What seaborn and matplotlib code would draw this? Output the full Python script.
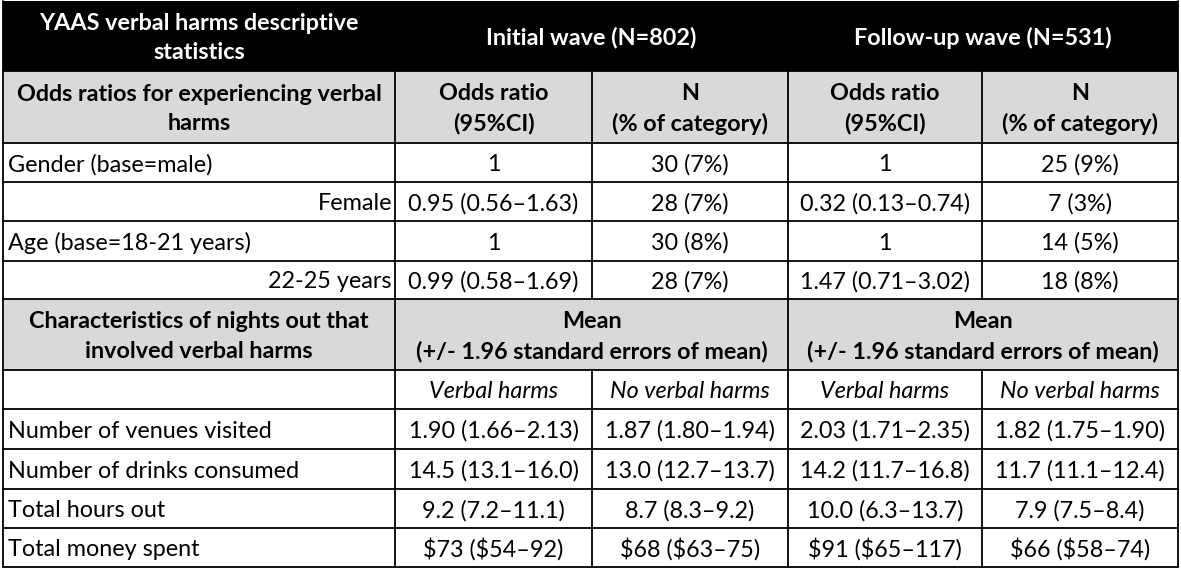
# YAAS verbal harms descriptive statistics table
import matplotlib
matplotlib.use('Agg')
import matplotlib.pyplot as plt
from matplotlib.patches import Rectangle
import seaborn as sns

# Table content
title = "YAAS verbal harms descriptive\nstatistics"
wave_headers = ["Initial wave (N=802)", "Follow-up wave (N=531)"]
or_header = "Odds ratios for experiencing verbal\nharms"
or_subheaders = ["Odds ratio\n(95%CI)", "N\n(% of category)"]
or_rows = ["Gender (base=male)", "Female", "Age (base=18-21 years)", "22-25 years"]
or_indent = [False, True, False, True]
initial_or = ["1", "0.95 (0.56–1.63)", "1", "0.99 (0.58–1.69)"]
initial_n = ["30 (7%)", "28 (7%)", "30 (8%)", "28 (7%)"]
follow_or = ["1", "0.32 (0.13–0.74)", "1", "1.47 (0.71–3.02)"]
follow_n = ["25 (9%)", "7 (3%)", "14 (5%)", "18 (8%)"]

night_header = "Characteristics of nights out that\ninvolved verbal harms"
mean_header = "Mean\n(+/- 1.96 standard errors of mean)"
harm_labels = ["Verbal harms", "No verbal harms"]
night_rows = ["Number of venues visited", "Number of drinks consumed",
              "Total hours out", "Total money spent"]
initial_vh = ["1.90 (1.66–2.13)", "14.5 (13.1–16.0)", "9.2 (7.2–11.1)", "$73 ($54–92)"]
initial_nvh = ["1.87 (1.80–1.94)", "13.0 (12.7–13.7)", "8.7 (8.3–9.2)", "$68 ($63–75)"]
follow_vh = ["2.03 (1.71–2.35)", "14.2 (11.7–16.8)", "10.0 (6.3–13.7)", "$91 ($65–117)"]
follow_nvh = ["1.82 (1.75–1.90)", "11.7 (11.1–12.4)", "7.9 (7.5–8.4)", "$66 ($58–74)"]

# Layout (pixel grid)
col_x = [3, 395, 592, 788, 982, 1178]
row_y = [1, 71, 143, 182, 221, 261, 299, 370, 409, 449, 489, 528, 567]
gray = '#D9D9D9'
fs = 16.8

sns.set_theme(style='white')
plt.rcParams['font.family'] = ['Lato', 'DejaVu Sans']

fig = plt.figure(figsize=(11.81, 5.68), dpi=100)
ax = fig.add_axes([0, 0, 1, 1])
ax.set_xlim(0, 1181)
ax.set_ylim(568, 0)
ax.axis('off')


def band(r, color):
    ax.add_patch(Rectangle((col_x[0], row_y[r]), col_x[-1] - col_x[0],
                           row_y[r + 1] - row_y[r], color=color, lw=0, zorder=0))


def put(text, c0, c1, r, ha='center', color='black', **kw):
    y = (row_y[r] + row_y[r + 1]) / 2 + 2
    if ha == 'center':
        x = (col_x[c0] + col_x[c1]) / 2
    elif ha == 'left':
        x = col_x[c0] + 5
    else:
        x = col_x[c1] - 3
    ax.text(x, y, text, ha=ha, va='center', fontsize=fs, linespacing=1.5,
            color=color, parse_math=False, **kw)


band(0, 'black')
band(1, gray)
band(6, gray)

# horizontal lines
for y in row_y[1:]:
    ax.plot([col_x[0], col_x[-1]], [y, y], color='black', lw=1.3, zorder=2)
# vertical lines
full_rows = [1, 2, 3, 4, 5, 7, 8, 9, 10, 11]
for r in range(len(row_y) - 1):
    if r in full_rows:
        xs = col_x
    elif r == 6:
        xs = [col_x[0], col_x[1], col_x[3], col_x[5]]
    else:
        xs = [col_x[0], col_x[5]]
    for x in xs:
        ax.plot([x, x], [row_y[r], row_y[r + 1]], color='black', lw=1.3, zorder=2)

# header
put(title, 0, 1, 0, color='white', fontweight='bold')
put(wave_headers[0], 1, 3, 0, color='white', fontweight='bold')
put(wave_headers[1], 3, 5, 0, color='white', fontweight='bold')

put(or_header, 0, 1, 1, fontweight='bold')
for c in [1, 3]:
    put(or_subheaders[0], c, c + 1, 1, fontweight='bold')
    put(or_subheaders[1], c + 1, c + 2, 1, fontweight='bold')

for i, lab in enumerate(or_rows):
    r = 2 + i
    put(lab, 0, 1, r, ha='right' if or_indent[i] else 'left')
    put(initial_or[i], 1, 2, r)
    put(initial_n[i], 2, 3, r)
    put(follow_or[i], 3, 4, r)
    put(follow_n[i], 4, 5, r)

put(night_header, 0, 1, 6, fontweight='bold')
put(mean_header, 1, 3, 6, fontweight='bold')
put(mean_header, 3, 5, 6, fontweight='bold')

for c in [1, 3]:
    put(harm_labels[0], c, c + 1, 7, style='italic')
    put(harm_labels[1], c + 1, c + 2, 7, style='italic')

for i, lab in enumerate(night_rows):
    r = 8 + i
    put(lab, 0, 1, r, ha='left')
    put(initial_vh[i], 1, 2, r)
    put(initial_nvh[i], 2, 3, r)
    put(follow_vh[i], 3, 4, r)
    put(follow_nvh[i], 4, 5, r)

fig.savefig('out.png', dpi=100, facecolor='white')
